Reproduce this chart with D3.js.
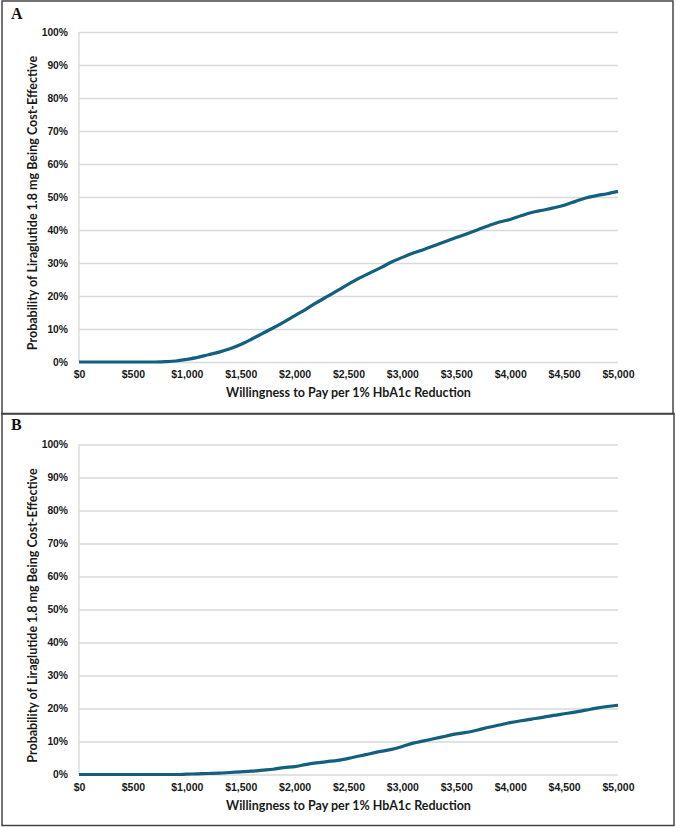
<!DOCTYPE html>
<html><head><meta charset="utf-8">
<script src="https://cdn.jsdelivr.net/npm/d3@7"></script>
<style>body{margin:0;background:#fff;}svg{display:block;}</style>
</head><body>
<svg id="chart" width="676" height="827"></svg>
<script>
const wtp = d3.range(0, 5001, 100);
const probA = [0,0,0,0,0,0,0,0,0.1,0.3,0.8,1.4,2.2,3.0,4.0,5.3,6.9,8.6,10.3,12.1,14.0,15.9,17.9,19.8,21.7,23.6,25.4,27.0,28.6,30.3,31.7,33.0,34.1,35.3,36.5,37.7,38.9,40.1,41.3,42.4,43.2,44.3,45.3,46.0,46.7,47.5,48.6,49.7,50.4,51.0,51.7];
const probB = [0,0,0,0,0,0,0,0,0,0,0.1,0.2,0.3,0.4,0.6,0.8,1.0,1.3,1.6,2.1,2.4,3.0,3.5,3.9,4.3,4.9,5.6,6.3,7.0,7.6,8.5,9.5,10.2,10.9,11.6,12.3,12.8,13.5,14.3,15.0,15.7,16.3,16.8,17.3,17.9,18.4,18.9,19.5,20.1,20.6,21.0];
const yTicks = [0,10,20,30,40,50,60,70,80,90,100];
const xTicks = [0,500,1000,1500,2000,2500,3000,3500,4000,4500,5000];
const panelLabels = ["A","B"];
const xTitle = "Willingness to Pay per 1% HbA1c Reduction";
const yTitle = "Probability of Liraglutide 1.8 mg Being Cost-Effective";

const svg = d3.select("#chart");
const lineColor = "#13607e";
const gridColor = "#d9d9d9";

const panels = [
  {label: panelLabels[0], data: probA, box:[2,1,671,413], top:32, bottom:362, labelY:18.5},
  {label: panelLabels[1], data: probB, box:[2,413.5,672,412], top:444.5, bottom:774.5, labelY:429.5}
];
const left = 79, right = 618;
const x = d3.scaleLinear().domain([0,5000]).range([left,right]);

panels.forEach((p,i) => {
  const g = svg.append("g");
  const y = d3.scaleLinear().domain([0,100]).range([p.bottom,p.top]);
  const yAxis = d3.axisLeft(y).tickValues(yTicks).tickSize(-(right-left)).tickFormat(d=>d+"%").tickPadding(11);
  const ya = g.append("g").attr("transform",`translate(${left},0)`).call(yAxis);
  ya.select(".domain").remove();
  ya.selectAll(".tick line").attr("stroke",gridColor).attr("stroke-width",1.3);
  ya.selectAll(".tick text").attr("font-family","'Liberation Sans',Arial,sans-serif").attr("font-weight","bold").attr("font-size","10.3px").attr("fill","#1a1a1a");
  g.append("line").attr("x1",left).attr("x2",left).attr("y1",p.top).attr("y2",p.bottom).attr("stroke",gridColor).attr("stroke-width",1.3);
  const xAxis = d3.axisBottom(x).tickValues(xTicks).tickSize(0).tickPadding(9).tickFormat(d=>"$"+d3.format(",")(d));
  const xa = g.append("g").attr("transform",`translate(0,${p.bottom})`).call(xAxis);
  xa.select(".domain").remove();
  xa.selectAll(".tick text").attr("font-family","'Liberation Sans',Arial,sans-serif").attr("font-weight","bold").attr("font-size","10.5px").attr("fill","#1a1a1a");
  const line = d3.line().x((d,j)=>x(wtp[j])).y(d=>y(d)).curve(d3.curveMonotoneX);
  g.append("path").datum(p.data).attr("d",line).attr("fill","none").attr("stroke",lineColor).attr("stroke-width",3.2).attr("stroke-linejoin","round");
  g.append("text").attr("x",(left+right)/2).attr("y",p.bottom+35).attr("text-anchor","middle")
    .attr("font-family","Lato,'Open Sans',sans-serif").attr("font-weight","bold").attr("font-size","12.5px").attr("fill","#1a1a1a").text(xTitle);
  g.append("text").attr("transform",`translate(37,${(p.top+p.bottom)/2+6}) rotate(-90)`).attr("text-anchor","middle")
    .attr("font-family","Lato,'Open Sans',sans-serif").attr("font-weight","bold").attr("font-size","12.5px").attr("fill","#1a1a1a").text(yTitle);
  g.append("text").attr("x",11).attr("y",p.labelY).attr("font-family","'Liberation Serif','Times New Roman',serif").attr("font-weight","bold").attr("font-size","16px").attr("fill","#111").text(p.label);
  g.append("rect").attr("x",p.box[0]).attr("y",p.box[1]).attr("width",p.box[2]).attr("height",p.box[3]).attr("fill","none").attr("stroke", "#444").attr("stroke-width",1.5);
});
</script>
</body></html>
